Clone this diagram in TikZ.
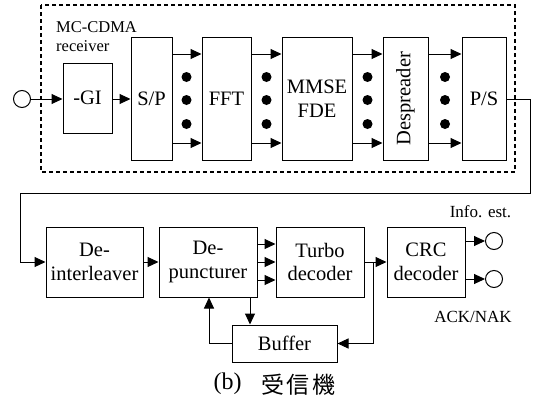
\documentclass[tikz,border=0pt]{standalone}
\usepackage{fontspec}
\setmainfont{Liberation Serif}
\newfontfamily\cjkfont{Noto Sans CJK JP}
\usetikzlibrary{arrows.meta,calc}
\begin{document}
\begin{tikzpicture}[x=1pt,y=-1pt,
  every node/.style={font=\fontsize{20.5}{23.5}\selectfont},
  blk/.style={draw,line width=1pt,rectangle,inner sep=0pt,align=center},
  arr/.style={line width=1pt,-{Triangle[length=11pt,width=10pt]}},
  ln/.style={line width=1pt},
  dot/.style={circle,fill=black,inner sep=0pt,minimum size=10pt},
  term/.style={circle,draw,line width=1pt,inner sep=0pt,minimum size=17pt},
  lbl/.style={font=\fontsize{17}{19}\selectfont,inner sep=0pt}]
\useasboundingbox (0,0) rectangle (540,399);
% dashed receiver box
\draw[line width=1.3pt,dash pattern=on 4pt off 3pt] (41,5) rectangle (515,172);
\node[lbl,anchor=west,align=left,font=\fontsize{16.5}{19}\selectfont] (mclbl) at (56,37) {MC-CDMA\\receiver};
% top row
\node[term] (in) at (22,99) {};
\node[blk,minimum width=49pt,minimum height=70pt] (gi) at (87.5,98) {-GI};
\node[blk,minimum width=41pt,minimum height=123pt] (sp) at (151.5,98.5) {S/P};
\node[blk,minimum width=49pt,minimum height=123pt] (fft) at (226.5,98.5) {FFT};
\node[blk,minimum width=70pt,minimum height=123pt] (mmse) at (317,98.5) {MMSE\\FDE};
\node[blk,minimum width=45pt,minimum height=123pt] (desp) at (405.5,98.5) {\rotatebox{90}{Despreader}};
\node[blk,minimum width=44pt,minimum height=123pt] (ps) at (484,98.5) {P/S};
\coordinate (ya) at (0,54);
\coordinate (yb) at (0,143);
\coordinate (ymid) at (0,99);
\draw[arr] (in.east) -- (gi.west |- ymid);
\draw[arr] (gi.east |- ymid) -- (sp.west |- ymid);
\foreach \a/\b/\x in {sp/fft/186.5, fft/mmse/266.5, mmse/desp/367.5, desp/ps/445} {
  \draw[arr] (\a.east |- ya) -- (\b.west |- ya);
  \draw[arr] (\a.east |- yb) -- (\b.west |- yb);
  \node[dot] (d1\a) at (\x,77) {};
  \node[dot] (d2\a) at (\x,100) {};
  \node[dot] (d3\a) at (\x,124) {};
}
% bottom row
\node[blk,minimum width=97pt,minimum height=70pt] (deint) at (94.5,262) {De-\\interleaver};
\node[blk,minimum width=98pt,minimum height=70pt] (depunc) at (208,262) {De-\\puncturer};
\node[blk,minimum width=88pt,minimum height=70pt] (turbo) at (320,262) {Turbo\\decoder};
\node[blk,minimum width=78pt,minimum height=70pt] (crc) at (426,262) {CRC\\decoder};
\node[blk,minimum width=105pt,minimum height=37pt] (buf) at (284.5,343.5) {Buffer};
\node[term] (o1) at (494,241) {};
\node[term] (o2) at (494,279) {};
\node[lbl] (info) at (480.5,212) {Info. est.};
\node[lbl] (ack) at (473,317) {ACK/NAK};
% P/S to deinterleaver
\coordinate (c1) at (530,99);
\coordinate (c2) at (530,193);
\coordinate (c3) at (20,193);
\coordinate (c4) at (20,262);
\draw[arr] (ps.east |- ymid) -- (c1) -- (c2) -- (c3) -- (c4) -- (deint.west);
\draw[arr] (deint.east) -- (depunc.west);
\coordinate (t1) at (0,244);
\coordinate (t3) at (0,280);
\draw[arr] (depunc.east |- t1) -- (turbo.west |- t1);
\draw[arr] (depunc.east) -- (turbo.west);
\draw[arr] (depunc.east |- t3) -- (turbo.west |- t3);
\draw[arr] (turbo.east) -- (crc.west);
\coordinate (j) at (373,262);
\draw[arr] (j) -- (j |- buf.east) -- (buf.east);
\coordinate (dx) at (250,0);
\draw[arr] (dx |- depunc.south) -- (dx |- buf.north);
\coordinate (bx) at (209,0);
\draw[arr] (buf.west) -- (bx |- buf.west) -- (bx |- depunc.south);
\draw[arr] (crc.east |- o1) -- (o1.west);
\draw[arr] (crc.east |- o2) -- (o2.west);
% caption
\node[inner sep=0pt,font=\fontsize{24}{26}\selectfont] (capb) at (227.5,384) {(b)};
\node[inner sep=0pt,font=\fontsize{23}{25}\cjkfont] (capj) at (298.5,385) {受\hspace{3pt}信\hspace{3pt}機};
\end{tikzpicture}
\end{document}
